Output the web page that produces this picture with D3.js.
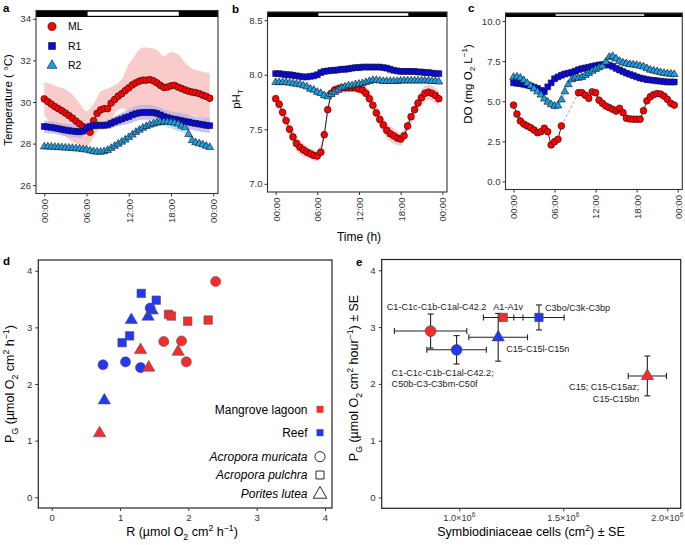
<!DOCTYPE html>
<html><head><meta charset="utf-8">
<script src="https://cdn.jsdelivr.net/npm/d3@7"></script>
<style>body{margin:0;background:#fff}svg{display:block;font-family:"Liberation Sans",Arial,sans-serif}</style>
</head><body><svg id="c" width="685" height="545"></svg>
<script>
// ---------------- DATA ----------------
const timeH = [0,0.5,1,1.5,2,2.5,3,3.5,4,4.5,5,5.5,6,6.5,7,7.5,8,8.5,9,9.5,10,10.5,11,11.5,12,12.5,13,13.5,14,14.5,15,15.5,16,16.5,17,17.5,18,18.5,19,19.5,20,20.5,21,21.5,22,22.5,23,23.5];
const ribbonH = [0,1,2,3,4,5,6,7,8,9,10,11,12,13,14,15,16,17,18,19,20,21,22,23,23.5];
const timeTicks = [0,6,12,18,24];
const timeTickLabels = ["00:00","06:00","12:00","18:00","00:00"];
const lightPeriod = [6.15, 19.1];
const siteNames = ["ML","R1","R2"];

const tempML = [30.15,30.02,29.9,29.78,29.68,29.58,29.47,29.35,29.22,29.08,28.95,28.82,28.7,28.55,29.1,29.45,29.62,29.68,29.68,29.95,30.12,30.28,30.4,30.55,30.68,30.82,30.92,31.0,31.05,31.05,31.08,31.02,30.92,30.8,30.7,30.72,30.78,30.8,30.72,30.65,30.58,30.52,30.48,30.45,30.4,30.33,30.27,30.18];
const tempR1 = [28.82,28.8,28.78,28.75,28.72,28.68,28.65,28.62,28.6,28.58,28.57,28.6,28.75,28.82,28.86,28.88,28.88,28.88,28.9,28.98,29.05,29.12,29.18,29.25,29.3,29.38,29.44,29.48,29.5,29.5,29.5,29.49,29.45,29.38,29.3,29.25,29.2,29.17,29.14,29.1,29.07,29.04,29.0,28.97,28.94,28.91,28.88,28.86];
const tempR2 = [27.85,27.85,27.84,27.83,27.82,27.81,27.8,27.79,27.78,27.76,27.75,27.72,27.7,27.66,27.62,27.6,27.6,27.62,27.68,27.78,27.88,27.98,28.08,28.18,28.3,28.42,28.55,28.65,28.75,28.83,28.9,28.95,29.0,29.03,29.05,29.05,29.03,29.0,28.95,28.85,28.78,28.45,28.15,28.05,28.0,27.95,27.88,27.82];
const tempMLsd = [0.8,0.95,1.04,1.13,1.13,1.0,0.85,0.8,0.88,0.97,0.68,0.7,1.12,1.38,1.57,1.52,1.58,1.5,1.62,1.58,1.32,1.12,1.1,1.15,1.22];
const tempR1sd = [0.3,0.3,0.3,0.3,0.3,0.3,0.25,0.2,0.2,0.2,0.25,0.3,0.35,0.35,0.35,0.35,0.35,0.35,0.35,0.35,0.35,0.35,0.35,0.35,0.35];
const tempR2sd = [0.1,0.1,0.1,0.1,0.1,0.1,0.1,0.1,0.1,0.1,0.12,0.12,0.12,0.15,0.15,0.15,0.18,0.2,0.3,0.35,0.3,0.15,0.1,0.1,0.1];

const phML = [7.78,7.73,7.655,7.58,7.5,7.43,7.37,7.335,7.31,7.29,7.275,7.26,7.255,7.29,7.45,7.68,7.83,7.86,7.87,7.88,7.88,7.88,7.88,7.88,7.87,7.86,7.83,7.78,7.72,7.65,7.59,7.54,7.49,7.46,7.44,7.42,7.41,7.44,7.53,7.615,7.68,7.74,7.79,7.83,7.84,7.83,7.81,7.78];
const phR1 = [8.01,8.01,8.005,8.0,8.0,7.995,7.99,7.985,7.98,7.98,7.985,7.99,8.0,8.02,8.03,8.035,8.04,8.04,8.045,8.05,8.05,8.055,8.06,8.065,8.065,8.07,8.07,8.07,8.07,8.07,8.07,8.065,8.06,8.05,8.04,8.035,8.03,8.03,8.03,8.03,8.03,8.025,8.025,8.02,8.02,8.015,8.01,8.01];
const phR2 = [7.93,7.93,7.93,7.93,7.925,7.92,7.915,7.91,7.9,7.89,7.87,7.86,7.84,7.83,7.81,7.8,7.82,7.84,7.86,7.88,7.89,7.9,7.9,7.91,7.915,7.92,7.93,7.94,7.95,7.95,7.945,7.94,7.94,7.94,7.94,7.94,7.945,7.945,7.945,7.945,7.945,7.945,7.945,7.945,7.945,7.94,7.94,7.935];
const phMLsd = [0.06,0.07,0.07,0.07,0.06,0.05,0.05,0.04,0.05,0.05,0.04,0.04,0.05,0.06,0.07,0.07,0.07,0.07,0.06,0.05,0.06,0.07,0.07,0.07,0.07];
const phR1sd = [0.015,0.015,0.015,0.015,0.015,0.015,0.015,0.015,0.015,0.015,0.015,0.015,0.015,0.015,0.015,0.015,0.015,0.015,0.015,0.015,0.015,0.015,0.015,0.015,0.015];
const phR2sd = [0.02,0.02,0.02,0.02,0.02,0.02,0.025,0.03,0.03,0.02,0.02,0.02,0.02,0.02,0.02,0.02,0.02,0.02,0.02,0.02,0.02,0.02,0.02,0.02,0.02];

const doML = [4.76,4.2,3.77,3.58,3.46,3.35,3.21,3.04,3.1,3.32,3.1,2.28,2.48,2.63,3.46,null,null,null,null,5.53,5.53,5.38,5.18,5.59,5.53,5.07,4.87,4.7,4.6,4.5,4.39,4.56,4.29,3.94,3.9,3.88,3.88,3.88,4.41,5.03,5.28,5.42,5.48,5.45,5.32,5.12,4.87,4.76];
const doR1 = [6.15,6.12,6.1,6.05,6.0,5.95,5.88,5.8,5.68,5.6,5.9,6.15,6.4,6.52,6.62,6.7,6.75,6.8,6.88,6.97,7.03,7.08,7.12,7.17,7.22,7.26,7.28,7.3,7.25,7.17,7.05,6.95,6.85,6.75,6.68,6.6,6.52,6.45,6.4,6.35,6.32,6.3,6.27,6.25,6.22,6.2,6.2,6.2];
const doR2 = [6.5,6.52,6.45,6.3,6.12,5.95,5.78,5.6,5.4,5.15,4.95,4.8,4.7,4.72,5.1,5.6,6.05,6.35,6.45,6.45,6.5,6.62,6.75,6.88,7.0,7.1,7.2,7.45,7.75,7.8,7.65,7.5,7.4,7.35,7.3,7.28,7.25,7.2,7.15,7.05,6.95,6.9,6.85,6.8,6.75,6.72,6.7,6.68];
const doR1sd = [0.12,0.12,0.12,0.12,0.15,0.15,0.15,0.15,0.12,0.12,0.12,0.12,0.12,0.12,0.12,0.12,0.12,0.12,0.12,0.12,0.12,0.12,0.12,0.12,0.12];
const doR2sd = [0.15,0.15,0.15,0.15,0.2,0.2,0.25,0.2,0.2,0.2,0.2,0.2,0.2,0.22,0.25,0.2,0.2,0.2,0.2,0.2,0.2,0.2,0.2,0.2,0.2];

// Panel d: R vs PG per site x species
const dSites = ["Mangrove lagoon","Reef"];
const dSpecies = ["Acropora muricata","Acropora pulchra","Porites lutea"];
const reefLuteaR = [1.165,1.41,1.47,0.77],  reefLuteaPG = [3.13,3.19,3.30,1.71];
const reefMuricataR = [0.75,1.08,1.30,1.44], reefMuricataPG = [2.34,2.39,2.29,3.34];
const reefPulchraR = [1.31,1.53,1.14,1.03], reefPulchraPG = [3.60,3.48,2.85,2.73];
const mlMuricataR = [2.40,1.64,1.90,1.97],  mlMuricataPG = [3.81,2.75,2.76,2.39];
const mlPulchraR = [1.71,1.75,1.99,2.29],   mlPulchraPG = [3.23,3.20,3.11,3.13];
const mlLuteaR = [1.30,1.42,1.85,0.70],     mlLuteaPG = [2.60,2.29,2.57,1.13];
const dTicks = [0,1,2,3,4];

// Panel e: cells vs PG with SE
const eSite = ["ML","Reef","Reef","ML","Reef","ML"];
const eSpecies = ["Acropora muricata","Acropora muricata","Porites lutea","Acropora pulchra","Acropora pulchra","Porites lutea"];
const eCells = [0.862e6,0.987e6,1.187e6,1.211e6,1.383e6,1.904e6];
const eCellsSE = [0.174e6,0.143e6,0.141e6,0.095e6,0.121e6,0.092e6];
const ePG = [2.93,2.60,2.82,3.17,3.17,2.14];
const ePGSE = [0.30,0.25,0.42,0.04,0.22,0.35];
const eLabels = [["C1-C1c-C1b-C1al-C42.2"],["C1-C1c-C1b-C1al-C42.2;","C50b-C3-C3bm-C50f"],["C15-C15l-C15n"],["A1-A1v"],["C3bo/C3k-C3bp"],["C15; C15-C15az;","C15-C15bn"]];
const eXTicks = [1.0e6,1.5e6,2.0e6];
const eXTickLabels = ["1.0","1.5","2.0"];
const eYTicks = [0,1,2,3,4];

// ---------------- STYLE / LAYOUT ----------------
const C = {ml:"#ff0000", r1:"#0a0ae8", r2:"#1f9de0", mlR:"#f7b9b9", r1R:"#b7aef0", r2R:"#9fd8f4",
           red:"#f42c2c", blue:"#2438f2"};
const eLabelLayout = [[6,-24.6,"middle"],[-65,23,"start"],[8,11,"start"],[5,-10.4,"middle"],[6,-9.7,"start"],[-8,11,"end"]];

const svg = d3.select("#c");
svg.append("rect").attr("width",685).attr("height",545).attr("fill","#fff");

function rich(sel, parts, fs) {
  let shift = 0;
  parts.forEach(p => {
    const mode = p[1];
    const target = mode === "sub" ? fs*0.3 : mode === "sup" ? -fs*0.42 : 0;
    const ts = sel.append("tspan").text(p[0]).attr("dy", target - shift);
    if (mode) ts.attr("font-size", fs*0.7);
    shift = target;
  });
}
function symbolPath(type, size) {
  const t = type === "circle" ? d3.symbolCircle : type === "square" ? d3.symbolSquare : d3.symbolTriangle;
  return d3.symbol().type(t).size(size)();
}

// ---------------- TIME SERIES PANELS ----------------
function tsPanel(o) {
  const g = svg.append("g");
  const x = d3.scaleLinear().domain([-1.175, 24.675]).range([o.L, o.R]);
  const y = d3.scaleLinear().domain(o.yDom).range([o.B, o.T]);
  const clipId = "clip" + o.id;
  svg.append("clipPath").attr("id", clipId).append("rect")
    .attr("x", o.L).attr("y", o.T).attr("width", o.R - o.L).attr("height", o.B - o.T);
  const pg = g.append("g").attr("clip-path", `url(#${clipId})`);

  // ribbons
  o.series.forEach(s => {
    const pts = ribbonH.map((t, i) => {
      const m = s.vals[timeH.indexOf(t)];
      return {t, m, sd: s.sd ? s.sd[i] : 0};
    });
    if (!s.sd) return;
    pg.append("path").datum(pts)
      .attr("d", d3.area().defined(d => d.m != null).curve(d3.curveMonotoneX)
        .x(d => x(d.t)).y0(d => y(d.m - d.sd)).y1(d => y(d.m + d.sd)))
      .attr("fill", s.rib).attr("opacity", 0.75);
  });
  // lines & markers
  o.series.forEach(s => {
    const pts = timeH.map((t, i) => ({t, v: s.vals[i]}));
    if (s.line) {
      pg.append("path").datum(pts)
        .attr("d", d3.line().defined(d => d.v != null).x(d => x(d.t)).y(d => y(d.v)))
        .attr("fill", "none").attr("stroke", "#111").attr("stroke-width", 0.9);
      // dashed connection over gaps
      const valid = pts.filter(d => d.v != null);
      for (let i = 1; i < valid.length; i++) {
        if (timeH.indexOf(valid[i].t) - timeH.indexOf(valid[i-1].t) > 1) {
          pg.append("line").attr("x1", x(valid[i-1].t)).attr("y1", y(valid[i-1].v))
            .attr("x2", x(valid[i].t)).attr("y2", y(valid[i].v))
            .attr("stroke", "#aaa").attr("stroke-width", 1).attr("stroke-dasharray", "3,2");
        }
      }
    }
    pg.selectAll(null).data(pts.filter(d => d.v != null)).enter().append("path")
      .attr("transform", d => `translate(${x(d.t)},${y(d.v)})`)
      .attr("d", symbolPath(s.shape, s.size))
      .attr("fill", s.col).attr("stroke", "#111").attr("stroke-width", 0.6);
  });

  // light/dark bar
  const barH = 17 - o.T;
  g.append("rect").attr("x", o.L).attr("y", o.T).attr("width", o.R - o.L).attr("height", barH).attr("fill", "#000");
  g.append("rect").attr("x", x(lightPeriod[0])).attr("y", o.T + 1.2).attr("width", x(lightPeriod[1]) - x(lightPeriod[0])).attr("height", barH - 2.4).attr("fill", "#fff");
  // border
  g.append("rect").attr("x", o.L).attr("y", o.T).attr("width", o.R - o.L).attr("height", o.B - o.T)
    .attr("fill", "none").attr("stroke", "#333").attr("stroke-width", 1.1);

  // axes
  const ya = g.append("g").attr("transform", `translate(${o.L},0)`)
    .call(d3.axisLeft(y).tickValues(o.yTicks).tickSize(3).tickPadding(2).tickFormat(o.yFmt));
  const xa = g.append("g").attr("transform", `translate(0,${o.B})`)
    .call(d3.axisBottom(x).tickValues(timeTicks).tickSize(3).tickFormat((d, i) => timeTickLabels[i]));
  [ya, xa].forEach(a => {
    a.select(".domain").remove();
    a.selectAll(".tick line").attr("stroke", "#333");
    a.selectAll(".tick text").attr("fill", "#333").attr("font-size", 9.6).attr("font-family", "Liberation Sans, Arial, sans-serif");
  });
  xa.selectAll(".tick text").attr("transform", "rotate(-90)").attr("x", -5.5).attr("y", 0)
    .attr("dy", "0.35em").attr("text-anchor", "end");

  // y title
  const yt = g.append("text").attr("transform", `translate(${o.ytX},${o.ytY}) rotate(-90)`)
    .attr("text-anchor", "middle").attr("font-size", 11.5).attr("fill", "#000").attr("dy", "0.35em");
  rich(yt, o.ytitle, 11.5);
  // panel label
  g.append("text").attr("x", o.labX).attr("y", o.labY).attr("font-weight", "bold").attr("font-size", 11.5).text(o.label);
  return {g, x, y};
}

const serTemp = [
  {vals: tempML, sd: tempMLsd, col: C.ml, rib: C.mlR, shape: "circle", size: 36, line: true},
  {vals: tempR1, sd: tempR1sd, col: C.r1, rib: C.r1R, shape: "square", size: 34},
  {vals: tempR2, sd: tempR2sd, col: C.r2, rib: C.r2R, shape: "triangle", size: 26}
];
const pa = tsPanel({id: "a", L: 36, R: 218, T: 10.5, B: 193.5, yDom: [25.6, 34.4], yTicks: [26,28,30,32,34], yFmt: d3.format("d"),
  series: serTemp, ytitle: [["Temperature ( °C)"]], ytX: 12, ytY: 100, label: "a", labX: 3, labY: 12});
// legend in panel a
const legA = pa.g.append("g");
[["circle", C.ml, 52, 26.5, 52], ["square", C.r1, 52, 46, 48], ["triangle", C.r2, 52, 65.5, 42]].forEach((d, i) => {
  legA.append("path").attr("transform", `translate(${d[2]},${d[3]})`).attr("d", symbolPath(d[0], d[4]))
    .attr("fill", d[1]).attr("stroke", "#111").attr("stroke-width", 0.6);
  legA.append("text").attr("x", 68).attr("y", d[3]).attr("dy", "0.35em").attr("font-size", 10.5).text(siteNames[i]);
});

const serPh = [
  {vals: phML, sd: phMLsd, col: C.ml, rib: C.mlR, shape: "circle", size: 36, line: true},
  {vals: phR1, sd: phR1sd, col: C.r1, rib: C.r1R, shape: "square", size: 34},
  {vals: phR2, sd: phR2sd, col: C.r2, rib: C.r2R, shape: "triangle", size: 26}
];
tsPanel({id: "b", L: 267.5, R: 447, T: 12, B: 192, yDom: [6.925, 8.575], yTicks: [7.0,7.5,8.0,8.5], yFmt: d3.format(".1f"),
  series: serPh, ytitle: [["pH"],["T","sub"]], ytX: 240, ytY: 99, label: "b", labX: 232, labY: 13});

const serDo = [
  {vals: doML, col: C.ml, rib: C.mlR, shape: "circle", size: 36, line: true},
  {vals: doR1, sd: doR1sd, col: C.r1, rib: C.r1R, shape: "square", size: 34},
  {vals: doR2, sd: doR2sd, col: C.r2, rib: C.r2R, shape: "triangle", size: 26}
];
tsPanel({id: "c", L: 505.5, R: 682.3, T: 13, B: 189.5, yDom: [-0.5, 10.5], yTicks: [0,2.5,5,7.5,10], yFmt: d3.format(".1f"),
  series: serDo, ytitle: [["DO (mg O"],["2","sub"],[" L"],["−1","sup"],[")"]], ytX: 472, ytY: 84, label: "c", labX: 468, labY: 12});

svg.append("text").attr("x", 359).attr("y", 237).attr("dy", "0.35em").attr("text-anchor", "middle").attr("font-size", 12).text("Time (h)");

// ---------------- PANEL D ----------------
(function () {
  const L = 38.3, R = 332, T = 260, B = 508;
  const x = d3.scaleLinear().domain([-0.197, 4.103]).range([L, R]);
  const y = d3.scaleLinear().domain([-0.19, 4.19]).range([B, T]);
  const g = svg.append("g");
  g.append("rect").attr("x", L).attr("y", T).attr("width", R - L).attr("height", B - T).attr("fill", "none").attr("stroke", "#222").attr("stroke-width", 1.2);
  const groups = [
    [reefLuteaR, reefLuteaPG, C.blue, "triangle", 66],
    [reefMuricataR, reefMuricataPG, C.blue, "circle", 80],
    [reefPulchraR, reefPulchraPG, C.blue, "square", 72],
    [mlMuricataR, mlMuricataPG, C.red, "circle", 80],
    [mlPulchraR, mlPulchraPG, C.red, "square", 72],
    [mlLuteaR, mlLuteaPG, C.red, "triangle", 66]
  ];
  groups.forEach(gr => {
    g.selectAll(null).data(gr[0].map((r, i) => [r, gr[1][i]])).enter().append("path")
      .attr("transform", d => `translate(${x(d[0])},${y(d[1])})`)
      .attr("d", symbolPath(gr[3], gr[4])).attr("fill", gr[2]).attr("stroke", "#555").attr("stroke-width", 0.6);
  });
  const xa = g.append("g").attr("transform", `translate(0,${B})`).call(d3.axisBottom(x).tickValues(dTicks).tickSize(3).tickFormat(d3.format("d")));
  const ya = g.append("g").attr("transform", `translate(${L},0)`).call(d3.axisLeft(y).tickValues(dTicks).tickSize(3).tickFormat(d3.format("d")));
  [xa, ya].forEach(a => {
    a.select(".domain").remove();
    a.selectAll(".tick line").attr("stroke", "#333");
    a.selectAll(".tick text").attr("fill", "#333").attr("font-size", 9.6).attr("font-family", "Liberation Sans, Arial, sans-serif");
  });
  // legend
  const lg = g.append("g");
  const legRows = [
    [dSites[0], 409.3, "square", C.red, 48, false],
    [dSites[1], 432.7, "square", C.blue, 48, false],
    [dSpecies[0], 456.7, "circle", "none", 80, true],
    [dSpecies[1], 475, "square", "none", 64, true],
    [dSpecies[2], 493.3, "triangle", "none", 80, true]
  ];
  legRows.forEach(r => {
    lg.append("text").attr("x", 307.5).attr("y", r[1]).attr("dy", "0.35em").attr("text-anchor", "end")
      .attr("font-size", 12).attr("font-style", r[5] ? "italic" : "normal").text(r[0]);
    lg.append("path").attr("transform", `translate(320,${r[1] + (r[2] === "triangle" ? 1 : 0)})`).attr("d", symbolPath(r[2], r[4]))
      .attr("fill", r[3]).attr("stroke", r[5] ? "#111" : "none").attr("stroke-width", 0.9);
  });
  const xt = g.append("text").attr("x", 182).attr("y", 536).attr("dy", "0.35em").attr("text-anchor", "middle").attr("font-size", 12.5);
  rich(xt, [["R (µmol O"],["2","sub"],[" cm"],["2","sup"],[" h"],["−1","sup"],[")"]], 12.5);
  const yt = g.append("text").attr("transform", "translate(14,384) rotate(-90)").attr("text-anchor", "middle").attr("font-size", 12.5).attr("dy", "0.35em");
  rich(yt, [["P"],["G","sub"],[" (µmol O"],["2","sub"],[" cm"],["2","sup"],[" h"],["−1","sup"],[")"]], 12.5);
  g.append("text").attr("x", 3).attr("y", 265).attr("font-weight", "bold").attr("font-size", 11.5).text("d");
})();

// ---------------- PANEL E ----------------
(function () {
  const L = 381.7, R = 680.7, T = 259.5, B = 508.3;
  const x = d3.scaleLinear().domain([0.627e6, 2.0644e6]).range([L, R]);
  const y = d3.scaleLinear().domain([-0.19, 4.19]).range([B, T]);
  const g = svg.append("g");
  g.append("rect").attr("x", L).attr("y", T).attr("width", R - L).attr("height", B - T).attr("fill", "none").attr("stroke", "#222").attr("stroke-width", 1.2);
  const cap = 3;
  const pts = eCells.map((c, i) => ({c, se: eCellsSE[i], pg: ePG[i], pse: ePGSE[i], site: eSite[i], sp: eSpecies[i], lab: eLabels[i], lay: eLabelLayout[i]}));
  const eb = g.append("g").attr("stroke", "#222").attr("stroke-width", 1.1).attr("fill", "none");
  pts.forEach(d => {
    const cx = x(d.c), cy = y(d.pg);
    eb.append("line").attr("x1", x(d.c - d.se)).attr("x2", x(d.c + d.se)).attr("y1", cy).attr("y2", cy);
    eb.append("line").attr("x1", x(d.c - d.se)).attr("x2", x(d.c - d.se)).attr("y1", cy - cap).attr("y2", cy + cap);
    eb.append("line").attr("x1", x(d.c + d.se)).attr("x2", x(d.c + d.se)).attr("y1", cy - cap).attr("y2", cy + cap);
    eb.append("line").attr("x1", cx).attr("x2", cx).attr("y1", y(d.pg - d.pse)).attr("y2", y(d.pg + d.pse));
    eb.append("line").attr("x1", cx - cap).attr("x2", cx + cap).attr("y1", y(d.pg - d.pse)).attr("y2", y(d.pg - d.pse));
    eb.append("line").attr("x1", cx - cap).attr("x2", cx + cap).attr("y1", y(d.pg + d.pse)).attr("y2", y(d.pg + d.pse));
  });
  const shapeOf = sp => sp === dSpecies[0] ? ["circle", 92] : sp === dSpecies[1] ? ["square", 70] : ["triangle", 66];
  g.selectAll(null).data(pts).enter().append("path")
    .attr("transform", d => `translate(${x(d.c)},${y(d.pg) + (shapeOf(d.sp)[0] === "triangle" ? 0 : 0)})`)
    .attr("d", d => symbolPath(...shapeOf(d.sp)))
    .attr("fill", d => d.site === "ML" ? C.red : C.blue).attr("stroke", "#444").attr("stroke-width", 0.6);
  pts.forEach(d => {
    const t = g.append("text").attr("x", x(d.c) + d.lay[0]).attr("y", y(d.pg) + d.lay[1]).attr("text-anchor", d.lay[2])
      .attr("font-size", 9.1).attr("fill", "#222");
    d.lab.forEach((s, j) => t.append("tspan").attr("x", x(d.c) + d.lay[0]).attr("dy", j === 0 ? "0.35em" : "1.25em").text(s));
  });
  const xa = g.append("g").attr("transform", `translate(0,${B})`).call(d3.axisBottom(x).tickValues(eXTicks).tickSize(3).tickFormat(""));
  const ya = g.append("g").attr("transform", `translate(${L},0)`).call(d3.axisLeft(y).tickValues(eYTicks).tickSize(3).tickFormat(d3.format("d")));
  [xa, ya].forEach(a => {
    a.select(".domain").remove();
    a.selectAll(".tick line").attr("stroke", "#333");
    a.selectAll(".tick text").attr("fill", "#333").attr("font-size", 9.6).attr("font-family", "Liberation Sans, Arial, sans-serif");
  });
  eXTicks.forEach((v, i) => {
    const t = g.append("text").attr("x", x(v)).attr("y", B + 12.5).attr("text-anchor", "middle").attr("font-size", 9.2).attr("fill", "#333");
    rich(t, [[eXTickLabels[i] + "×10"], ["6", "sup"]], 9.2);
  });
  const xt = g.append("text").attr("x", 531).attr("y", 536).attr("dy", "0.35em").attr("text-anchor", "middle").attr("font-size", 12.5);
  rich(xt, [["Symbiodiniaceae cells (cm"],["2","sup"],[") ± SE"]], 12.5);
  const yt = g.append("text").attr("transform", "translate(358,378) rotate(-90)").attr("text-anchor", "middle").attr("font-size", 12.5).attr("dy", "0.35em");
  rich(yt, [["P"],["G","sub"],[" (µmol O"],["2","sub"],[" cm"],["2","sup"],[" hour"],["−1","sup"],[") ± SE"]], 12.5);
  g.append("text").attr("x", 356).attr("y", 266).attr("font-weight", "bold").attr("font-size", 11.5).text("e");
})();
</script></body></html>
